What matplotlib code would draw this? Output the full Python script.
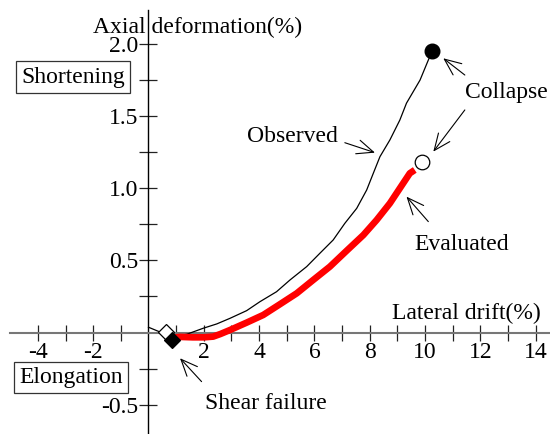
import matplotlib
matplotlib.use('Agg')

import numpy as np
import matplotlib.pyplot as plt

plt.rcParams['font.family'] = ['Liberation Serif', 'DejaVu Serif']
plt.rcParams['font.size'] = 17

# observed axial deformation vs lateral drift (thin black)
obs_drift = [0.0, 0.39, 0.62, 0.84, 1.38, 1.98, 2.47, 2.95, 3.55, 4.03, 4.63, 5.12,
             5.72, 6.2, 6.68, 7.1, 7.53, 7.89, 8.13, 8.37, 8.73, 9.09, 9.33, 9.82,
             10.12, 10.27]
obs_axial = [0.037, 0.006, 0.005, -0.03, -0.012, 0.03, 0.06, 0.099, 0.152, 0.214,
             0.283, 0.365, 0.457, 0.55, 0.642, 0.757, 0.861, 0.988, 1.104, 1.219,
             1.335, 1.473, 1.59, 1.75, 1.889, 1.954]

# evaluated (thick red)
eva_drift = [0.9, 1.14, 1.6, 2.0, 2.34, 2.6, 2.95, 3.55, 4.15, 4.75, 5.36, 5.96,
             6.56, 7.17, 7.77, 8.25, 8.73, 9.09, 9.45, 9.63]
eva_axial = [-0.035, -0.03, -0.033, -0.033, -0.028, -0.01, 0.018, 0.069, 0.122,
             0.196, 0.272, 0.365, 0.457, 0.568, 0.676, 0.78, 0.896, 1.0, 1.104, 1.127]

# key points
shear_obs = (0.62, 0.005)
shear_eva = (0.84, -0.05)
collapse_obs = (10.27, 1.954)
collapse_eva = (9.88, 1.18)

x_ticks = list(range(-4, 0)) + list(range(1, 15))
x_labels = [str(v) if v % 2 == 0 else '' for v in x_ticks]
y_ticks = [-0.5, -0.25, 0.25, 0.5, 0.75, 1.0, 1.25, 1.5, 1.75, 2.0]
y_labels = ['%.1f' % v if (v * 2) % 1 == 0 else '' for v in y_ticks]

fig = plt.figure(figsize=(5.5, 4.34), dpi=100)
ax = fig.add_axes([0, 0, 1, 1])
ax.set_xlim(-5.37, 14.52)
ax.set_ylim(-0.703, 2.305)

ax.spines['top'].set_visible(False)
ax.spines['right'].set_visible(False)
ax.spines['left'].set_position(('data', 0))
ax.spines['bottom'].set_position(('data', 0))
ax.spines['left'].set_bounds(-0.703, 2.235)
ax.spines['bottom'].set_bounds(-5.0, 14.52)
ax.spines['bottom'].set_color('#777777')
ax.spines['bottom'].set_linewidth(1.5)
ax.spines['left'].set_linewidth(1.0)

ax.set_xticks(x_ticks)
ax.set_xticklabels(x_labels)
ax.set_yticks(y_ticks)
ax.set_yticklabels(y_labels)
ax.tick_params(axis='x', direction='inout', length=11, width=0.9, pad=1, color='#222222')
ax.tick_params(axis='y', direction='inout', length=13, width=0.9, pad=1, color='#222222')
ax.patch.set_visible(False)

ax.plot(obs_drift, obs_axial, color='black', lw=0.9, solid_joinstyle='round', zorder=3)
ax.plot(eva_drift, eva_axial, color='#ff0000', lw=4.8, solid_capstyle='butt',
        solid_joinstyle='round', zorder=4)

ax.plot(*shear_obs, marker='D', ms=7.8, mfc='white', mec='black', mew=0.9, zorder=5)
ax.plot(*shear_eva, marker='D', ms=7.8, mfc='black', mec='black', mew=0.9, zorder=5)
ax.plot(*collapse_obs, marker='o', ms=10.5, mfc='black', mec='black', zorder=5)
ax.plot(*collapse_eva, marker='o', ms=10.5, mfc='white', mec='black', mew=0.9, zorder=5)

ax.text(-2.02, 2.077, 'Axial deformation(%)', ha='left', va='baseline')
ax.text(8.79, 0.094, 'Lateral drift(%)', ha='left', va='baseline')

box = dict(boxstyle='square,pad=0.22', fc='white', ec='#333333', lw=0.9)
ax.text(-2.73, 1.771, 'Shortening', ha='center', va='center', bbox=box)
ax.text(-2.80, -0.311, 'Elongation', ha='center', va='center', bbox=box)

ax.text(3.55, 1.323, 'Observed', ha='left', va='baseline')
ax.text(11.44, 1.624, 'Collapse', ha='left', va='baseline')
ax.text(9.63, 0.572, 'Evaluated', ha='left', va='baseline')
ax.text(2.04, -0.532, 'Shear failure', ha='left', va='baseline')

arrow = dict(arrowstyle='->,head_length=0.7,head_width=0.3', lw=0.8, color='black',
             shrinkA=0, shrinkB=0)
arrows = [((8.19, 1.247), (7.1, 1.316)),
          ((10.66, 1.901), (11.44, 1.785)),
          ((10.30, 1.254), (11.44, 1.543)),
          ((9.33, 0.942), (10.12, 0.769)),
          ((1.14, -0.178), (1.92, -0.340))]
for tip, tail in arrows:
    ax.annotate('', xy=tip, xytext=tail, arrowprops=arrow)

fig.savefig('out.png', dpi=100)
